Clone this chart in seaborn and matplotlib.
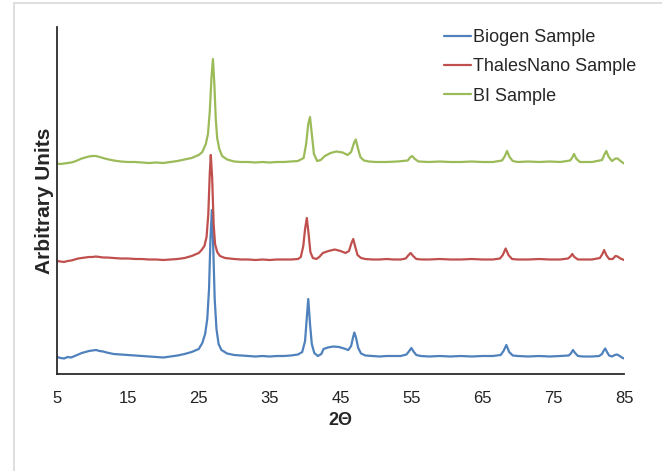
import pandas as pd
import seaborn as sns
import matplotlib.pyplot as plt
from matplotlib.lines import Line2D

# XRD patterns (arbitrary units, already offset per sample)
biogen_x = [5, 5.5, 6, 6.5, 7, 7.5, 8, 8.5, 9, 9.5, 10, 10.5, 11, 11.5, 12, 13, 14, 15, 16, 17,
            18, 19, 20, 21, 22, 23, 24, 25, 25.5, 25.9, 26.2, 26.45, 26.65, 26.85, 27.05, 27.25,
            27.5, 27.8, 28.2, 29, 30, 31, 32, 33, 34, 35, 36, 37, 38, 39, 39.6, 40.0, 40.2, 40.45,
            40.7, 40.95, 41.3, 41.8, 42.3, 42.6, 43.2, 44, 44.8, 45.5, 46.1, 46.5, 46.75, 46.95,
            47.2, 47.5, 47.9, 48.5, 49.5, 50.5, 51.5, 52.5, 53.5, 54.3, 54.7, 55.0, 55.3, 55.7,
            56.3, 57.5, 59, 60.5, 62, 63.5, 65, 66.5, 67.6, 68.0, 68.4, 68.8, 69.3, 70, 71.5, 73,
            74.5, 76, 77.2, 77.5, 77.8, 78.1, 78.5, 79.2, 80.5, 81.5, 81.9, 82.1, 82.35, 82.6,
            82.9, 83.3, 83.7, 84.0, 84.3, 84.7, 85]
biogen_y = [17, 16, 15.5, 17, 16.5, 18, 19.5, 21, 22, 23, 23.5, 24, 23, 22.5, 21.5, 20, 19.5, 19,
            18.5, 18, 17.5, 17, 16.5, 17.5, 18.5, 20, 22, 25, 31, 40, 55, 85, 135, 164, 125, 75,
            45, 30, 24, 20.5, 19, 18.5, 18, 17.5, 18, 17.5, 18, 18, 18.5, 19.5, 22, 33, 52, 75,
            50, 30, 21, 18, 20, 25, 26.5, 27.5, 27, 25.5, 24, 28, 36, 41.5,
            36, 26, 20.5, 18.5, 18, 17.5, 18, 18, 18, 19.5, 23, 26, 22.5, 19,
            18, 17.5, 18, 17.5, 18, 17.5, 18, 18, 19, 23, 29, 22, 18.5, 18, 17.5, 18,
            17.5, 18, 18.5, 20.5, 24, 21, 18, 17.5, 17.5, 18, 20, 23, 25.5, 22,
            18.5, 17.5, 19, 19.5, 18.5, 16.5, 15.5]

thales_x = [5, 5.5, 6, 6.5, 7, 7.5, 8, 8.5, 9, 9.5, 10, 10.5, 11, 11.5, 12, 13, 14, 15, 16, 17,
            18, 19, 20, 21, 22, 23, 24, 25, 25.4, 25.8, 26.1, 26.35, 26.55, 26.7, 26.9, 27.1,
            27.3, 27.6, 28.0, 28.7, 30, 31, 32, 33, 34, 35, 36, 37, 38, 39, 39.4, 39.75, 40.0,
            40.25, 40.5, 40.75, 41.1, 41.6, 42.0, 42.5, 43.3, 44.2, 45, 45.7, 46.2, 46.55, 46.8,
            47.05, 47.4, 47.9, 48.5, 49.5, 50.5, 51.5, 52.5, 53.5, 54.2, 54.55, 54.9, 55.25,
            55.7, 56.5, 57.5, 59, 60.5, 62, 63.5, 65, 66.5, 67.5, 67.9, 68.3, 68.7, 69.2, 70,
            71.5, 73, 74.5, 76, 77.1, 77.45, 77.7, 78.0, 78.5, 79.2, 80.5, 81.6, 81.95, 82.2,
            82.5, 82.9, 83.4, 83.8, 84.1, 84.5, 85]
thales_y = [113, 112.5, 112, 113, 113.5, 114.5, 115.5, 116, 116.5, 117, 117, 117.5, 117, 116.5,
            116.5, 116, 115.5, 115.5, 115, 115, 114.5, 114.5, 114, 114.5, 115, 116, 118, 121,
            124, 128, 137, 160, 200, 219, 195, 150, 130, 122, 118, 116, 115, 114.5, 114.5, 114,
            114.5, 114, 114.5, 114.5, 114.5, 115, 117, 128, 145, 156, 140, 122, 116, 115, 117,
            121, 123, 124.5, 123, 121, 123, 131, 135, 128, 119, 116, 115, 114.5, 114.5, 115,
            114.5, 114.5, 115.5, 118.5, 121, 118, 115, 114.5, 114.5, 115, 114.5, 114.5, 115,
            114.5, 114.5, 115.5, 119, 125.5, 119, 115, 114.5, 114.5, 115, 114.5, 114.5, 115.5,
            117.5, 120, 117, 114.5, 114.5, 114.5, 116, 120, 124, 119, 115, 115, 118, 117.5,
            115.5, 114]

bi_x = [5, 5.5, 6, 6.5, 7, 7.5, 8, 8.5, 9, 9.5, 10, 10.5, 11, 11.5, 12, 13, 14, 15, 16, 17, 18,
        19, 20, 21, 22, 23, 24, 25, 25.5, 26.0, 26.3, 26.55, 26.8, 27.0, 27.2, 27.4, 27.6, 27.9,
        28.3, 29, 30, 31, 32, 33, 34, 35, 36, 37, 38, 39, 39.8, 40.15, 40.45, 40.7, 40.95, 41.25,
        41.7, 42.2, 42.8, 43.6, 44.4, 45.3, 46.0, 46.5, 46.9, 47.15, 47.45, 47.8, 48.3, 49, 50,
        51.5, 53, 54.5, 54.8, 55.1, 55.5, 56, 57.5, 59, 60.5, 62, 63.5, 65, 66.5, 67.8, 68.2,
        68.5, 68.85, 69.3, 70, 71.5, 73, 74.5, 76, 77.4, 77.7, 77.95, 78.3, 78.8, 79.5, 80.5,
        81.9, 82.2, 82.5, 82.85, 83.3, 83.8, 84.1, 84.5, 85]
bi_y = [210.5, 210, 210.5, 211, 211.5, 212.5, 214, 215.5, 216.5, 217.5, 218, 218, 217, 216, 215,
        213.5, 212.5, 212, 212, 211.5, 211, 211.5, 211, 212, 213, 214.5, 216, 219, 222, 230, 240,
        262, 297, 315, 290, 255, 236, 225, 218, 214.5, 212.5, 212, 212, 211.5, 212, 211.5, 212,
        212, 212.5, 213, 216, 230, 250, 257, 240, 220, 213, 214, 218, 221, 222.5, 221.5, 219,
        222, 231, 234.5, 226, 217, 213.5, 212.5, 212, 212, 212.5, 213.5, 216.5, 218, 215, 212.5,
        212, 212.5, 212, 212, 212.5, 212, 212, 213.5, 218, 223, 217, 213, 212, 212.5, 212,
        212.5, 212, 213.5, 216.5, 220, 215, 212, 212, 212, 214, 219, 223, 217, 213, 215.5,
        215.5, 213, 210.5]

samples = ["Biogen Sample", "ThalesNano Sample", "BI Sample"]
colors = ["#4F81BD", "#C0504D", "#9BBB59"]
ticks = [5, 15, 25, 35, 45, 55, 65, 75, 85]

df = pd.concat([
    pd.DataFrame({"two_theta": biogen_x, "intensity": biogen_y, "sample": samples[0]}),
    pd.DataFrame({"two_theta": thales_x, "intensity": thales_y, "sample": samples[1]}),
    pd.DataFrame({"two_theta": bi_x, "intensity": bi_y, "sample": samples[2]}),
])

sns.set_style("white")
plt.rcParams["font.family"] = ["Liberation Sans", "DejaVu Sans"]

fig = plt.figure(figsize=(6.62, 4.71), dpi=100)
ax = fig.add_axes([57 / 662, 1 - 374 / 471, 567 / 662, 347 / 471])

sns.lineplot(data=df, x="two_theta", y="intensity", hue="sample", hue_order=samples,
             palette=colors, estimator=None, sort=False, linewidth=1.6, ax=ax)

ax.set_xlim(5, 85)
ax.set_ylim(0, 347)
ax.set_xticks(ticks)
ax.set_yticks([])
ax.tick_params(axis="x", length=0, pad=12.5, labelsize=12, colors="#222222")
ax.set_xlabel("2Θ", fontsize=13, fontweight="bold", labelpad=4)
ax.set_ylabel("Arbitrary Units", fontsize=15, fontweight="bold", labelpad=2)

for side in ["top", "right"]:
    ax.spines[side].set_visible(False)
for side in ["left", "bottom"]:
    ax.spines[side].set_color("#2b2b2b")
    ax.spines[side].set_linewidth(1.3)

handles, labels = ax.get_legend_handles_labels()
ax.legend(handles, labels, loc="upper right", bbox_to_anchor=(636 / 662, 1 - 29 / 471),
          bbox_transform=fig.transFigure, frameon=False, fontsize=13, borderpad=0,
          borderaxespad=0, handlelength=1.5, handletextpad=0.12, labelspacing=0.68)

# faint frame around the picture
fig.add_artist(Line2D([14 / 662, 14 / 662], [0, 1 - 3 / 471], color="#d9d9d9", lw=1.2))
fig.add_artist(Line2D([14 / 662, 1], [1 - 3 / 471, 1 - 3 / 471], color="#d9d9d9", lw=1.2))

fig.savefig("out.png", dpi=100)
